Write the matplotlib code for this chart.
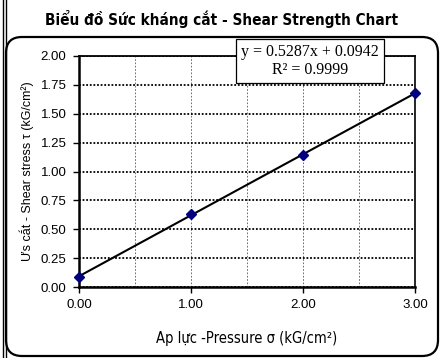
import matplotlib
matplotlib.use("Agg")
import matplotlib.pyplot as plt
from matplotlib.patches import FancyBboxPatch
from matplotlib.ticker import MultipleLocator, FormatStrFormatter
import numpy as np

# du lieu
pressure = [0.0, 1.0, 2.0, 3.0]
shear = [0.09, 0.63, 1.14, 1.68]
title = "Biểu đồ Sức kháng cắt - Shear Strength Chart"
xlabel = "Ap lực -Pressure σ (kG/cm²)"
ylabel = "Ưs cắt - Shear stress τ (kG/cm²)"
eq_text = "y = 0.5287x + 0.0942\nR² = 0.9999"

fig = plt.figure(figsize=(4.4, 3.58), dpi=100)
fig.patch.set_facecolor("white")

# lop ve khung (toa do pixel)
bg = fig.add_axes([0, 0, 1, 1])
bg.set_xlim(0, 440)
bg.set_ylim(358, 0)
bg.axis("off")
bg.plot([2.5, 2.5], [0, 358], color="black", lw=1.0)
bg.plot([6, 6], [0, 358], color="black", lw=1.0)
bg.add_patch(FancyBboxPatch((6, 37), 432, 319,
                            boxstyle="round,pad=0,rounding_size=16",
                            fill=False, edgecolor="black", lw=1.6))

bg.text(222, 19, title, ha="center", va="center",
        fontsize=11, fontweight="bold", fontstretch="condensed",
        family=["DejaVu Sans"])

ax = fig.add_axes([79 / 440, 1 - 287 / 358, 336 / 440, 231 / 358])
ax.set_xlim(0, 3)
ax.set_ylim(0, 2)

# duong xu huong
coef = np.polyfit(pressure, shear, 1)
xs = np.array([0, 3])
ax.plot(xs, np.polyval(coef, xs), color="black", lw=1.5, zorder=3)
ax.plot(pressure, shear, linestyle="none", marker="D", markersize=5,
        color="#000080", zorder=4, clip_on=False)

ax.yaxis.set_major_locator(MultipleLocator(0.25))
ax.xaxis.set_major_locator(MultipleLocator(1.0))
ax.xaxis.set_minor_locator(MultipleLocator(0.5))
ax.yaxis.set_major_formatter(FormatStrFormatter("%.2f"))
ax.xaxis.set_major_formatter(FormatStrFormatter("%.2f"))
ax.grid(axis="y", which="major", color="black", linestyle=(0, (1, 1)), lw=1.3)
ax.grid(axis="x", which="both", color="#555555", linestyle=(0, (2, 2)), lw=0.6)
ax.tick_params(axis="x", which="minor", length=0)
ax.tick_params(direction="out", length=4, width=1, labelsize=9.5, pad=5)
for lab in ax.get_xticklabels() + ax.get_yticklabels():
    lab.set_family(["Liberation Sans", "DejaVu Sans"])

ax.spines["left"].set_linewidth(1.8)
ax.spines["bottom"].set_linewidth(1.8)
ax.spines["right"].set_linewidth(1.2)
ax.spines["top"].set_linestyle((0, (1, 1)))
ax.spines["top"].set_linewidth(1.3)

ax.set_xlabel(xlabel, fontsize=10.5, labelpad=14, fontstretch="condensed",
              family=["DejaVu Sans"])
ax.set_ylabel(ylabel, fontsize=9, labelpad=5,
              family=["Liberation Sans", "DejaVu Sans"])

fig.text(310, 61, eq_text, ha="center", va="center",
         transform=bg.transData,
         fontsize=11.5, family=["Liberation Serif", "DejaVu Serif"],
         linespacing=1.15, zorder=10,
         bbox=dict(boxstyle="square,pad=0.35", fc="white", ec="black", lw=0.9))

fig.savefig("out.png", dpi=100)
